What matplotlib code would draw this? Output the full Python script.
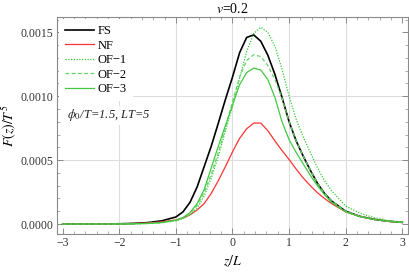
import matplotlib
matplotlib.use("Agg")
import matplotlib.pyplot as plt
import numpy as np
from matplotlib.ticker import MultipleLocator, FuncFormatter

plt.rcParams["font.family"] = ["Liberation Serif", "DejaVu Serif"]
plt.rcParams["mathtext.fontset"] = "stix"

# z/L sample points and F(z)/T^5 values (in units of 1e-4)
z = [-3, -2.5, -2, -1.75, -1.5, -1.25, -1, -0.875, -0.75, -0.625, -0.5, -0.375,
     -0.25, -0.125, 0, 0.125, 0.25, 0.375, 0.5, 0.625, 0.75, 0.875, 1, 1.125,
     1.25, 1.375, 1.5, 1.625, 1.75, 2, 2.25, 2.5, 2.75, 3]

fs = [0.0, 0.003, 0.02, 0.05, 0.11, 0.25, 0.55, 0.95, 1.7, 2.9, 4.5, 6.1,
      7.9, 9.75, 11.5, 13.4, 14.6, 14.8, 14.3, 13.2, 11.7, 9.9, 8.0, 6.5,
      5.3, 4.2, 3.2, 2.4, 1.8, 1.0, 0.6, 0.37, 0.22, 0.13]

nf = [0.0, 0.003, 0.015, 0.04, 0.08, 0.17, 0.32, 0.48, 0.72, 1.1, 1.6, 2.4,
      3.4, 4.5, 5.65, 6.7, 7.45, 7.9, 7.9, 7.3, 6.5, 5.75, 5.05, 4.3,
      3.6, 3.0, 2.45, 2.0, 1.6, 0.95, 0.6, 0.36, 0.21, 0.12]

of1 = [0.0, 0.001, 0.006, 0.015, 0.04, 0.1, 0.25, 0.42, 0.72, 1.25, 2.2, 3.6,
       5.3, 7.3, 9.2, 11.4, 13.5, 14.9, 15.4, 15.0, 13.9, 12.1, 10.0, 8.2,
       6.8, 5.6, 4.4, 3.4, 2.6, 1.4, 0.85, 0.5, 0.28, 0.15]

of2 = [0.0, 0.001, 0.006, 0.015, 0.04, 0.1, 0.27, 0.45, 0.8, 1.45, 2.5, 3.9,
       5.6, 7.5, 9.6, 11.5, 12.8, 13.25, 13.1, 12.4, 11.3, 9.85, 8.0, 6.5,
       5.3, 4.2, 3.2, 2.4, 1.8, 1.0, 0.6, 0.37, 0.22, 0.13]

of3 = [0.0, 0.001, 0.008, 0.02, 0.05, 0.12, 0.3, 0.5, 0.9, 1.6, 2.7, 4.4,
       6.1, 7.7, 9.3, 10.9, 11.85, 12.2, 12.05, 11.3, 9.9, 8.0, 6.6, 5.6,
       4.7, 3.8, 3.0, 2.3, 1.7, 0.95, 0.58, 0.36, 0.21, 0.12]

scale = 1e-4

fig = plt.figure(figsize=(4.1, 2.73), dpi=100)
ax = fig.add_axes([57 / 410, 1 - 234 / 273, 351 / 410, 217 / 273])

ax.plot(z, np.array(fs) * scale, color="black", lw=1.2, label="FS")
ax.plot(z, np.array(nf) * scale, color="#ff3333", lw=0.9, label="NF")
ax.plot(z, np.array(of1) * scale, color="#33cc33", lw=0.9, ls=(0, (1, 1.2)), label="OF\u22121")
ax.plot(z, np.array(of2) * scale, color="#66d466", lw=0.9, ls=(0, (3, 2)), label="OF\u22122")
ax.plot(z, np.array(of3) * scale, color="#44c844", lw=0.9, label="OF\u22123")

ax.set_xlim(-3.1, 3.1)
ax.set_ylim(-0.000078, 0.00162)

ax.xaxis.set_major_locator(MultipleLocator(1))
ax.xaxis.set_minor_locator(MultipleLocator(0.2))
ax.yaxis.set_major_locator(MultipleLocator(0.0005))
ax.yaxis.set_minor_locator(MultipleLocator(0.0001))
ax.yaxis.set_major_formatter(FuncFormatter(lambda v, p: "%.4f" % v))

for gx in [-2, -1, 0, 1, 2]:
    ax.axvline(gx, color="#dddddd", lw=0.8, zorder=0)
for gy in [0.0005, 0.001]:
    ax.axhline(gy, color="#dddddd", lw=0.8, zorder=0)

for s in ax.spines.values():
    s.set_color("#8a8a8a")
    s.set_linewidth(0.8)
ax.tick_params(which="both", direction="in", top=True, right=True,
               color="#8a8a8a", labelsize=8.5, labelcolor="#333333", pad=2.5)
ax.tick_params(which="major", length=4, width=0.7)
ax.tick_params(which="minor", length=2, width=0.5)

ax.set_title(r"$v$=0.2", fontsize=10, pad=3)
ax.set_xlabel(r"$z/L$", fontsize=10, labelpad=3)
ax.set_ylabel(r"$F(z)/T^5$", fontsize=10)
ax.yaxis.set_label_coords(-0.11, 0.5)

leg = ax.legend(loc="upper left", fontsize=9, frameon=True, framealpha=1,
                facecolor="white", edgecolor="none", borderaxespad=0.15,
                borderpad=0.5, handlelength=2.3, handletextpad=0.3,
                labelspacing=0.2)
leg.get_frame().set_boxstyle("square", pad=0)

ax.text(-2.93, 0.00085, r"$\phi_0$/T=1.5, LT=5", fontsize=9, style="italic",
        color="#222222", va="center",
        bbox=dict(facecolor="white", edgecolor="none", pad=1))

fig.savefig("out.png", dpi=100)
